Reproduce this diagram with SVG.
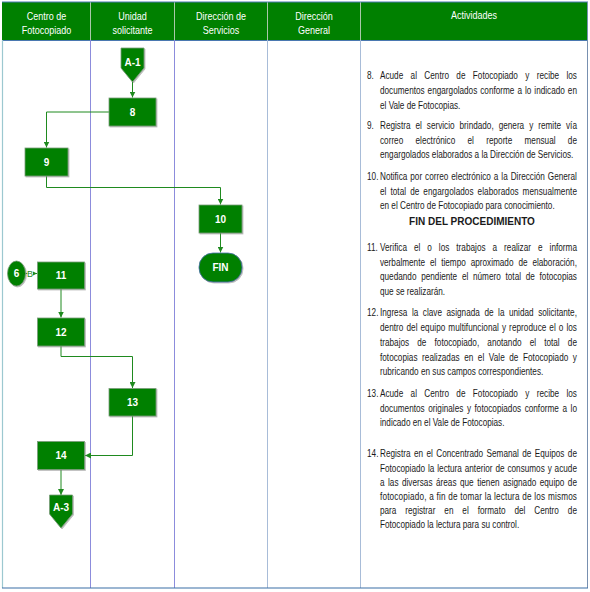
<svg xmlns="http://www.w3.org/2000/svg" width="590" height="592" viewBox="0 0 590 592">
<defs>
<style>
.hdr{font-family:"Liberation Sans",Arial,sans-serif;font-size:11px;fill:#ffffff;text-anchor:middle}
.box{fill:#008000;stroke:#7a9c7a;stroke-width:0.8;filter:url(#sh)}
.lbl{font-family:"Liberation Sans",Arial,sans-serif;font-size:10px;font-weight:bold;fill:#ffffff;text-anchor:middle}
.con{fill:none;stroke:#1f8a1f;stroke-width:1}
.act{font-family:"Liberation Sans",Arial,sans-serif;font-size:10px;fill:#1a1a1a}
.actb{font-family:"Liberation Sans",Arial,sans-serif;font-size:10px;font-weight:bold;fill:#1a1a1a;text-anchor:middle}
</style>
<filter id="sh" x="-20%" y="-20%" width="140%" height="140%">
<feDropShadow dx="1" dy="1" stdDeviation="0.7" flood-color="#777777" flood-opacity="0.5"/>
</filter>
<marker id="arr" viewBox="0 0 6 6" refX="6" refY="3" markerWidth="6" markerHeight="6" orient="auto" markerUnits="userSpaceOnUse">
<path d="M0,0 L6,3 L0,6 z" fill="#1f8a1f"/>
</marker>
</defs>

<rect x="0" y="0" width="590" height="592" fill="#ffffff"/>

<g id="lanes">
<rect x="2" y="2" width="586" height="38.5" fill="#008000"/>
<line x1="90.5" y1="2" x2="90.5" y2="40" stroke="#a8c8a8" stroke-width="1"/>
<line x1="174.5" y1="2" x2="174.5" y2="40" stroke="#a8c8a8" stroke-width="1"/>
<line x1="267.5" y1="2" x2="267.5" y2="40" stroke="#a8c8a8" stroke-width="1"/>
<line x1="360.5" y1="2" x2="360.5" y2="40" stroke="#a8c8a8" stroke-width="1"/>
<line x1="2" y1="2" x2="588" y2="2" stroke="#4a78b0" stroke-width="1"/>
<line x1="2" y1="40.5" x2="588" y2="40.5" stroke="#4a78b0" stroke-width="1"/>
<line x1="2.5" y1="40" x2="2.5" y2="588" stroke="#9cc8d0" stroke-width="1.2"/>
<line x1="90.5" y1="40" x2="90.5" y2="588" stroke="#8c8cdc" stroke-width="1"/>
<line x1="174.5" y1="40" x2="174.5" y2="588" stroke="#8c8cdc" stroke-width="1"/>
<line x1="267.5" y1="40" x2="267.5" y2="588" stroke="#a8bcd8" stroke-width="1"/>
<line x1="360.5" y1="40" x2="360.5" y2="588" stroke="#a8bcd8" stroke-width="1"/>
<line x1="587.5" y1="2" x2="587.5" y2="588" stroke="#7890b0" stroke-width="1"/>
<line x1="2" y1="588" x2="588" y2="588" stroke="#3a6ea5" stroke-width="1.2"/>
<g transform="scale(0.82,1)">
<text class="hdr" x="56.7" y="20">Centro de</text>
<text class="hdr" x="56.7" y="34">Fotocopiado</text>
<text class="hdr" x="161.6" y="20">Unidad</text>
<text class="hdr" x="161.6" y="34">solicitante</text>
<text class="hdr" x="269.5" y="20">Dirección de</text>
<text class="hdr" x="269.5" y="34">Servicios</text>
<text class="hdr" x="382.9" y="20">Dirección</text>
<text class="hdr" x="382.9" y="34">General</text>
<text class="hdr" x="578" y="19">Actividades</text>
</g>
</g>

<g id="connectors">
<path class="con" d="M132.5,82 V97.5" marker-end="url(#arr)"/>
<path class="con" d="M109,112 H46.5 V147.5" marker-end="url(#arr)"/>
<path class="con" d="M46.5,176 V187.5 H220.5 V204.5" marker-end="url(#arr)"/>
<path class="con" d="M220.5,233 V252.5" marker-end="url(#arr)"/>
<path class="con" d="M25.5,273.5 H37" marker-end="url(#arr)"/>
<path class="con" d="M61,289 V317.5" marker-end="url(#arr)"/>
<path class="con" d="M61,346 V356.5 H132.5 V388" marker-end="url(#arr)"/>
<path class="con" d="M132.5,416 V455.5 H85" marker-end="url(#arr)"/>
<path class="con" d="M61,469.5 V495" marker-end="url(#arr)"/>
<rect x="27.3" y="268.5" width="5.6" height="9" fill="#ffffff"/>
<text x="30.1" y="277" font-family="Liberation Sans,Arial,sans-serif" font-size="9" fill="#1f8a1f" text-anchor="middle">B</text>
</g>

<g id="nA1">
<path class="box" d="M121,48 H144 V68 L132.5,82 L121,68 Z"/>
<text class="lbl" x="132.5" y="65.5">A-1</text>
</g>
<g id="n8">
<rect class="box" x="109" y="98" width="47" height="28"/>
<text class="lbl" x="132.5" y="115.5">8</text>
</g>
<g id="n9">
<rect class="box" x="25" y="148" width="43" height="28"/>
<text class="lbl" x="46.5" y="165.5">9</text>
</g>
<g id="n10">
<rect class="box" x="199" y="205" width="43" height="28"/>
<text class="lbl" x="220.5" y="222.5">10</text>
</g>
<g id="nFIN">
<rect class="box" x="199" y="253" width="43" height="29" rx="14" ry="14" style="stroke:#4a6fb0"/>
<text class="lbl" x="220.5" y="271">FIN</text>
</g>
<g id="n6">
<ellipse class="box" cx="16.5" cy="273.5" rx="9" ry="12.5"/>
<text class="lbl" x="16.5" y="277">6</text>
</g>
<g id="n11">
<rect class="box" x="37.5" y="262" width="47" height="27"/>
<text class="lbl" x="61" y="279">11</text>
</g>
<g id="n12">
<rect class="box" x="37.5" y="318" width="47" height="28"/>
<text class="lbl" x="61" y="335.5">12</text>
</g>
<g id="n13">
<rect class="box" x="109" y="388.5" width="47" height="27.5"/>
<text class="lbl" x="132.5" y="405.5">13</text>
</g>
<g id="n14">
<rect class="box" x="37.5" y="441.5" width="47" height="28"/>
<text class="lbl" x="61" y="459">14</text>
</g>
<g id="nA3">
<path class="box" d="M49.5,495 H72.5 V514 L61,528 L49.5,514 Z"/>
<text class="lbl" x="61" y="511">A-3</text>
</g>

<g id="activities">
<g transform="scale(0.82,1)">
<text class="act" x="447.6" y="79.5">8.</text>
<text class="act" x="463.4" y="79.5" word-spacing="6.2" textLength="240.2" lengthAdjust="spacing">Acude al Centro de Fotocopiado y recibe los</text>
<text class="act" x="463.4" y="94.5" word-spacing="0.86" textLength="240.2" lengthAdjust="spacing">documentos engargolados conforme a lo indicado en</text>
<text class="act" x="463.4" y="109.5">el Vale de Fotocopias.</text>

<text class="act" x="447.6" y="129">9.</text>
<text class="act" x="463.4" y="129" word-spacing="3.36" textLength="240.2" lengthAdjust="spacing">Registra el servicio brindado, genera y remite vía</text>
<text class="act" x="463.4" y="144" word-spacing="12.2" textLength="240.2" lengthAdjust="spacing">correo electrónico el reporte mensual de</text>
<text class="act" x="463.4" y="158.5">engargolados elaborados a la Dirección de Servicios.</text>

<text class="act" x="447.6" y="180">10.</text>
<text class="act" x="463.4" y="180" word-spacing="0.82" textLength="240.2" lengthAdjust="spacing">Notifica por correo electrónico a la Dirección General</text>
<text class="act" x="463.4" y="195" word-spacing="1.98" textLength="240.2" lengthAdjust="spacing">el total de engargolados elaborados mensualmente</text>
<text class="act" x="463.4" y="209.5">en el Centro de Fotocopiado para conocimiento.</text>

<text class="act" x="447.6" y="251.5">11.</text>
<text class="act" x="463.4" y="251.5" word-spacing="5.71" textLength="240.2" lengthAdjust="spacing">Verifica el o los trabajos a realizar e informa</text>
<text class="act" x="463.4" y="266" word-spacing="3.26" textLength="240.2" lengthAdjust="spacing">verbalmente el tiempo aproximado de elaboración,</text>
<text class="act" x="463.4" y="280.5" word-spacing="2.97" textLength="240.2" lengthAdjust="spacing">quedando pendiente el número total de fotocopias</text>
<text class="act" x="463.4" y="295.5">que se realizarán.</text>

<text class="act" x="447.6" y="316.5">12.</text>
<text class="act" x="463.4" y="316.5" word-spacing="2.79" textLength="240.2" lengthAdjust="spacing">Ingresa la clave asignada de la unidad solicitante,</text>
<text class="act" x="463.4" y="331.5" word-spacing="0.83" textLength="240.2" lengthAdjust="spacing">dentro del equipo multifuncional y reproduce el o los</text>
<text class="act" x="463.4" y="346" word-spacing="7.15" textLength="240.2" lengthAdjust="spacing">trabajos de fotocopiado, anotando el total de</text>
<text class="act" x="463.4" y="361" word-spacing="2.79" textLength="240.2" lengthAdjust="spacing">fotocopias realizadas en el Vale de Fotocopiado y</text>
<text class="act" x="463.4" y="375.5">rubricando en sus campos correspondientes.</text>

<text class="act" x="447.6" y="397">13.</text>
<text class="act" x="463.4" y="397" word-spacing="6.2" textLength="240.2" lengthAdjust="spacing">Acude al Centro de Fotocopiado y recibe los</text>
<text class="act" x="463.4" y="412" word-spacing="1.59" textLength="240.2" lengthAdjust="spacing">documentos originales y fotocopiados conforme a lo</text>
<text class="act" x="463.4" y="426.5">indicado en el Vale de Fotocopias.</text>

<text class="act" x="447.6" y="457.5">14.</text>
<text class="act" x="463.4" y="457.5" word-spacing="1.36" textLength="240.2" lengthAdjust="spacing">Registra en el Concentrado Semanal de Equipos de</text>
<text class="act" x="463.4" y="472" word-spacing="0.73" textLength="240.2" lengthAdjust="spacing">Fotocopiado la lectura anterior de consumos y acude</text>
<text class="act" x="463.4" y="486" word-spacing="1.47" textLength="240.2" lengthAdjust="spacing">a las diversas áreas que tienen asignado equipo de</text>
<text class="act" x="463.4" y="500" word-spacing="0.2" textLength="240.2" lengthAdjust="spacing">fotocopiado, a fin de tomar la lectura de los mismos</text>
<text class="act" x="463.4" y="514" word-spacing="8.1" textLength="240.2" lengthAdjust="spacing">para registrar en el formato del Centro de</text>
<text class="act" x="463.4" y="528.5">Fotocopiado la lectura para su control.</text>
</g>
<text class="actb" x="472" y="224.5">FIN DEL PROCEDIMIENTO</text>
</g>
</svg>
